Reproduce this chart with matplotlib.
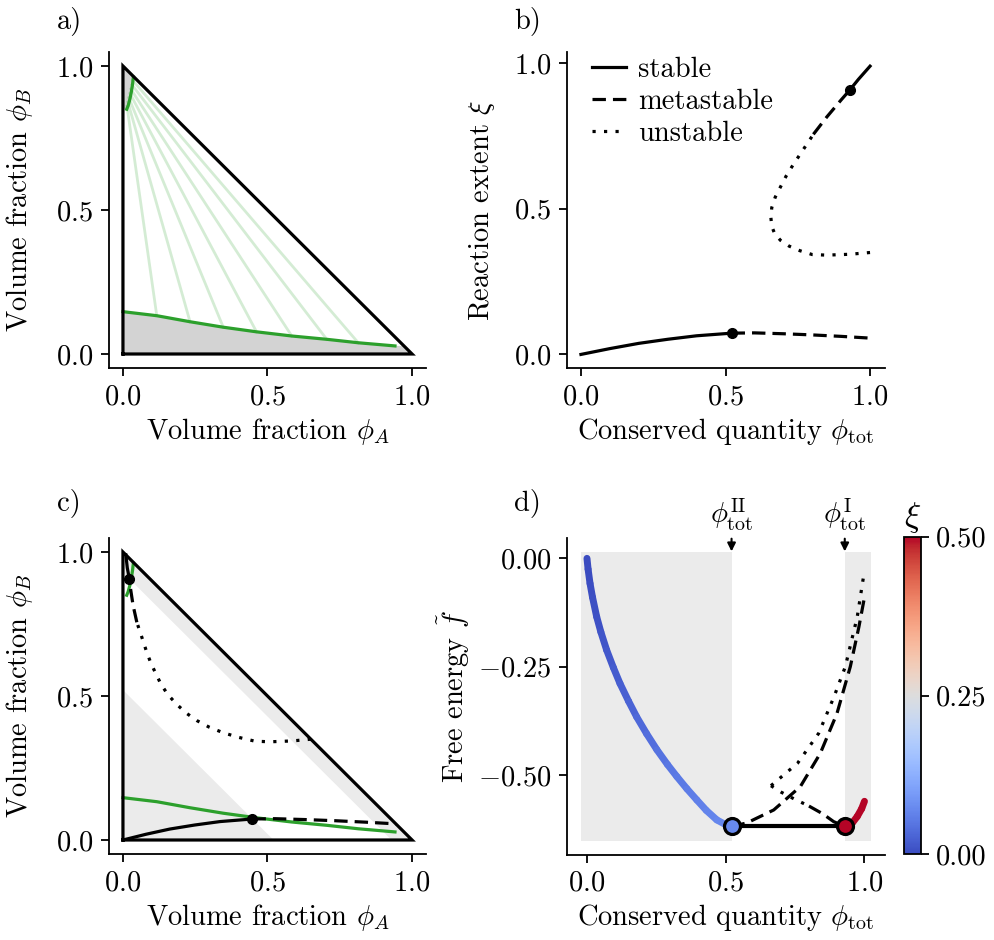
import numpy as np
import matplotlib
matplotlib.use('Agg')
import matplotlib.pyplot as plt
from matplotlib.collections import LineCollection
from matplotlib.colors import Normalize
from matplotlib.lines import Line2D
import matplotlib.cm as cm

plt.rcParams.update({
    'font.family': 'serif',
    'font.serif': ['cmr10'],
    'mathtext.fontset': 'cm',
    'axes.formatter.use_mathtext': True,
    'axes.unicode_minus': False,
    'font.size': 20.5,
    'axes.linewidth': 1.3,
    'xtick.major.width': 1.3, 'ytick.major.width': 1.3,
    'xtick.major.size': 6, 'ytick.major.size': 6,
    'xtick.major.pad': 5, 'ytick.major.pad': 5,
})

GREEN = '#2ca02c'
LW = 2.3
DASH = (0, (4.2, 2.2))
DOT = (0, (1, 2.6))

PHI_II = 0.521   # coexisting phi_tot, low-xi phase
PHI_I = 0.929    # coexisting phi_tot, high-xi phase

# --- binodal in the (phi_A, phi_B) plane
binodal_low_a = [0.0, 0.117, 0.232, 0.347, 0.462, 0.584, 0.705, 0.814, 0.941]
binodal_low_b = [0.147, 0.133, 0.112, 0.093, 0.077, 0.0625, 0.051, 0.039, 0.028]
binodal_up_a = [0.036, 0.033, 0.029, 0.024, 0.018, 0.013]
binodal_up_b = [0.961, 0.935, 0.91, 0.885, 0.862, 0.85]

# tie lines (lower end, upper end)
tie_low_a = [0.117, 0.232, 0.347, 0.462, 0.584, 0.705, 0.814]
tie_low_b = [0.133, 0.112, 0.093, 0.077, 0.0625, 0.051, 0.039]
tie_up_a = [0.014, 0.017, 0.02, 0.024, 0.027, 0.031, 0.034]
tie_up_b = [0.86, 0.875, 0.89, 0.905, 0.92, 0.935, 0.95]

# --- reaction extent branches xi(phi_tot)
low_stable_phi = [0.0, 0.1, 0.2, 0.3, 0.4, 0.521]
low_stable_xi = [0.0, 0.02, 0.038, 0.052, 0.064, 0.073]
low_meta_phi = [0.521, 0.6, 0.7, 0.8, 0.9, 1.0]
low_meta_xi = [0.073, 0.074, 0.071, 0.067, 0.062, 0.056]
unst_phi = [1.0, 0.93, 0.85, 0.80, 0.758, 0.72, 0.69, 0.67, 0.66, 0.657,
            0.66, 0.672, 0.689, 0.71, 0.735, 0.77, 0.804]
unst_xi = [0.35, 0.344, 0.341, 0.343, 0.356, 0.372, 0.392, 0.415, 0.44, 0.47,
           0.504, 0.54, 0.573, 0.613, 0.653, 0.705, 0.756]
up_meta_phi = [0.804, 0.85, 0.9, 0.929]
up_meta_xi = [0.756, 0.815, 0.874, 0.907]
up_stable_phi = [0.929, 0.96, 1.0]
up_stable_xi = [0.907, 0.945, 0.99]

# --- free energy branches f(phi_tot)
f_low_phi = [0.0, 0.004, 0.011, 0.02, 0.035, 0.05, 0.071, 0.095, 0.119, 0.15, 0.179,
             0.215, 0.252, 0.29, 0.324, 0.36, 0.396, 0.43, 0.468, 0.50, 0.521]
f_low = [0.0, -0.025, -0.058, -0.09, -0.135, -0.17, -0.212, -0.252, -0.289, -0.33, -0.366,
         -0.405, -0.442, -0.476, -0.504, -0.532, -0.558, -0.582, -0.604, -0.615, -0.619]
f_low_xi = [0.0, 0.001, 0.002, 0.004, 0.007, 0.01, 0.014, 0.019, 0.023, 0.029, 0.034,
            0.04, 0.045, 0.05, 0.054, 0.058, 0.062, 0.066, 0.069, 0.071, 0.073]
f_high_phi = [0.929, 0.955, 0.974, 0.99, 1.0]
f_high = [-0.619, -0.612, -0.596, -0.578, -0.561]
f_high_xi = [0.907, 0.93, 0.95, 0.97, 0.99]
f_lowmeta_phi = [0.521, 0.576, 0.673, 0.769, 0.841, 0.901, 0.949, 0.98, 1.0]
f_lowmeta = [-0.619, -0.611, -0.581, -0.527, -0.45, -0.358, -0.25, -0.158, -0.09]
f_unst1_phi = [0.663, 0.759, 0.835, 0.89, 0.931, 0.974, 1.0]
f_unst1 = [-0.525, -0.473, -0.404, -0.32, -0.25, -0.135, -0.028]
f_unst2_phi = [0.663, 0.70, 0.745, 0.80]
f_unst2 = [-0.525, -0.54, -0.555, -0.572]
f_upmeta_phi = [0.80, 0.85, 0.889, 0.929]
f_upmeta = [-0.572, -0.59, -0.608, -0.619]
f_tangent = -0.619

W, H = 994, 940
fig = plt.figure(figsize=(W / 100, H / 100), dpi=100)


def px_axes(left, right, top, bottom):
    return fig.add_axes([left / W, 1 - bottom / H, (right - left) / W, (bottom - top) / H])


def despine(ax):
    ax.spines['top'].set_visible(False)
    ax.spines['right'].set_visible(False)


def triangle(ax):
    ax.plot([0, 1, 0, 0], [0, 0, 1, 0], color='k', lw=LW, zorder=10,
            solid_joinstyle='miter', clip_on=False)


ax_a = px_axes(108.5, 426.5, 51.6, 368.4)
ax_b = px_axes(566.5, 884.5, 51.6, 368.4)
ax_c = px_axes(108.5, 426.5, 537.6, 854.4)
ax_d = px_axes(567, 885, 538, 855)
cax = px_axes(904.3, 921, 536.7, 854.3)

# ---------------- a)
ax = ax_a
poly_x = [0] + binodal_low_a + [1 - binodal_low_b[-1], 1]
poly_y = [0] + binodal_low_b + [binodal_low_b[-1], 0]
ax.fill(poly_x, poly_y, color='#d3d3d3', lw=0, zorder=1)
ax.fill([0] + binodal_up_a + [0], [1] + binodal_up_b + [binodal_up_b[-1]],
        color='#d3d3d3', lw=0, zorder=1)
for xa, ya, xb, yb in zip(tie_low_a, tie_low_b, tie_up_a, tie_up_b):
    ax.plot([xa, xb], [ya, yb], color=GREEN, alpha=0.2, lw=2, zorder=2)
ax.plot(binodal_low_a, binodal_low_b, color=GREEN, lw=LW, zorder=3)
ax.plot(binodal_up_a, binodal_up_b, color=GREEN, lw=LW, zorder=3)
triangle(ax)

# ---------------- c)
ax = ax_c
ax.fill([0, PHI_II, 0], [0, 0, PHI_II], color='#ebebeb', lw=0, zorder=1)
ax.fill([PHI_I, 1, 0, 0], [0, 0, 1, PHI_I], color='#ebebeb', lw=0, zorder=1)
ax.plot(binodal_low_a, binodal_low_b, color=GREEN, lw=LW, zorder=3)
ax.plot(binodal_up_a, binodal_up_b, color=GREEN, lw=LW, zorder=3)


def to_ab(phi, xi):
    phi = np.asarray(phi)
    xi = np.asarray(xi)
    return phi - xi, xi


ax.plot(*to_ab(low_stable_phi, low_stable_xi), color='k', lw=LW, zorder=4)
ax.plot(*to_ab(low_meta_phi, low_meta_xi), color='k', lw=LW, ls=DASH, zorder=4)
ax.plot(*to_ab(unst_phi, unst_xi), color='k', lw=LW, ls=DOT, zorder=4)
ax.plot(*to_ab(up_meta_phi, up_meta_xi), color='k', lw=LW, ls=DASH, zorder=4)
ax.plot(*to_ab(up_stable_phi, up_stable_xi), color='k', lw=LW, zorder=4)
ax.plot(*to_ab([low_stable_phi[-1], up_meta_phi[-1]], [low_stable_xi[-1], up_meta_xi[-1]]),
        'o', color='k', ms=7, zorder=5)
triangle(ax)

for ax in (ax_a, ax_c):
    ax.set_xlim(-0.05, 1.05)
    ax.set_ylim(-0.05, 1.05)
    ax.set_xticks([0, 0.5, 1])
    ax.set_yticks([0, 0.5, 1])
    despine(ax)
    ax.set_xlabel(r'Volume fraction $\phi_A$')
    ax.set_ylabel(r'Volume fraction $\phi_B$')
    ax.yaxis.set_label_coords(-0.231, 0.5)

# ---------------- b)
ax = ax_b
ax.plot(low_stable_phi, low_stable_xi, color='k', lw=LW)
ax.plot(low_meta_phi, low_meta_xi, color='k', lw=LW, ls=DASH)
ax.plot(unst_phi, unst_xi, color='k', lw=LW, ls=DOT)
ax.plot(up_meta_phi, up_meta_xi, color='k', lw=LW, ls=DASH)
ax.plot(up_stable_phi, up_stable_xi, color='k', lw=LW)
ax.plot([low_stable_phi[-1], up_meta_phi[-1]], [low_stable_xi[-1], up_meta_xi[-1]],
        'o', color='k', ms=7, zorder=5)
ax.set_xlim(-0.05, 1.05)
ax.set_ylim(-0.048, 1.04)
ax.set_xticks([0, 0.5, 1])
ax.set_yticks([0, 0.5, 1])
despine(ax)
ax.set_xlabel(r'Conserved quantity $\phi_{\rm tot}$')
ax.set_ylabel(r'Reaction extent $\xi$')
ax.yaxis.set_label_coords(-0.219, 0.5)
handles = [Line2D([], [], color='k', lw=LW),
           Line2D([], [], color='k', lw=LW, ls=DASH),
           Line2D([], [], color='k', lw=LW, ls=DOT)]
ax.legend(handles, ['stable', 'metastable', 'unstable'], loc='upper left',
          bbox_to_anchor=(0, 1.065), frameon=False, handlelength=1.2,
          handletextpad=0.4, labelspacing=0.2)

# ---------------- d)
ax = ax_d
norm = Normalize(0, 0.5)
cmap = plt.get_cmap('coolwarm')
ax.fill_between([-0.02, PHI_II], -0.652, 0.014, color='#ebebeb', lw=0, zorder=0)
ax.fill_between([PHI_I, 1.022], -0.652, 0.014, color='#ebebeb', lw=0, zorder=0)

for px, fy, xv in ((f_low_phi, f_low, f_low_xi), (f_high_phi, f_high, f_high_xi)):
    pts = np.column_stack([px, fy])
    segs = np.stack([pts[:-1], pts[1:]], axis=1)
    lc = LineCollection(segs, cmap=cmap, norm=norm, lw=5, capstyle='round', zorder=3)
    lc.set_array(np.asarray(xv[:-1]))
    ax.add_collection(lc)

ax.plot(f_lowmeta_phi, f_lowmeta, color='k', lw=LW, ls=DASH, zorder=2)
ax.plot(f_unst1_phi, f_unst1, color='k', lw=LW, ls=DOT, zorder=2)
ax.plot(f_unst2_phi, f_unst2, color='k', lw=LW, ls=DOT, zorder=2)
ax.plot(f_upmeta_phi, f_upmeta, color='k', lw=LW, ls=DASH, zorder=2)
ax.plot([PHI_II, PHI_I], [f_tangent, f_tangent], color='k', lw=3, zorder=4)
ax.plot(PHI_II, f_tangent, 'o', ms=11.5, mew=2.3, mec='k',
        mfc=cmap(norm(f_low_xi[-1])), zorder=6)
ax.plot(PHI_I, f_tangent, 'o', ms=11.5, mew=2.3, mec='k',
        mfc=cmap(norm(f_high_xi[0])), zorder=6)

for xpos, lab in ((PHI_II, r'$\phi_{\rm tot}^{\rm II}$'), (PHI_I, r'$\phi_{\rm tot}^{\rm I}$')):
    ax.annotate(lab, xy=(xpos, 0.016), xytext=(xpos, 0.1), ha='center', va='center',
                annotation_clip=False,
                arrowprops=dict(arrowstyle='-|>', color='k', lw=1.5,
                                mutation_scale=12, shrinkA=2, shrinkB=0))

ax.set_xlim(-0.072, 1.074)
ax.set_ylim(-0.685, 0.047)
ax.set_xticks([0, 0.5, 1])
ax.set_yticks([-0.5, -0.25, 0])
despine(ax)
ax.set_xlabel(r'Conserved quantity $\phi_{\rm tot}$')
ax.set_ylabel(r'Free energy $\tilde{f}$')
ax.yaxis.set_label_coords(-0.3, 0.5)

sm = cm.ScalarMappable(norm=norm, cmap=cmap)
cb = fig.colorbar(sm, cax=cax, ticks=[0, 0.25, 0.5])
cb.ax.yaxis.set_major_formatter(plt.FormatStrFormatter('%.2f'))
cb.outline.set_linewidth(1.3)
cax.set_title(r'$\xi$', pad=8)

for x, y, s in ((57, 22, 'a)'), (514, 22, 'b)'), (57, 503, 'c)'), (514, 503, 'd)')):
    fig.text(x / W, 1 - y / H, s, ha='left', va='center')

fig.savefig('out.png', dpi=100)
